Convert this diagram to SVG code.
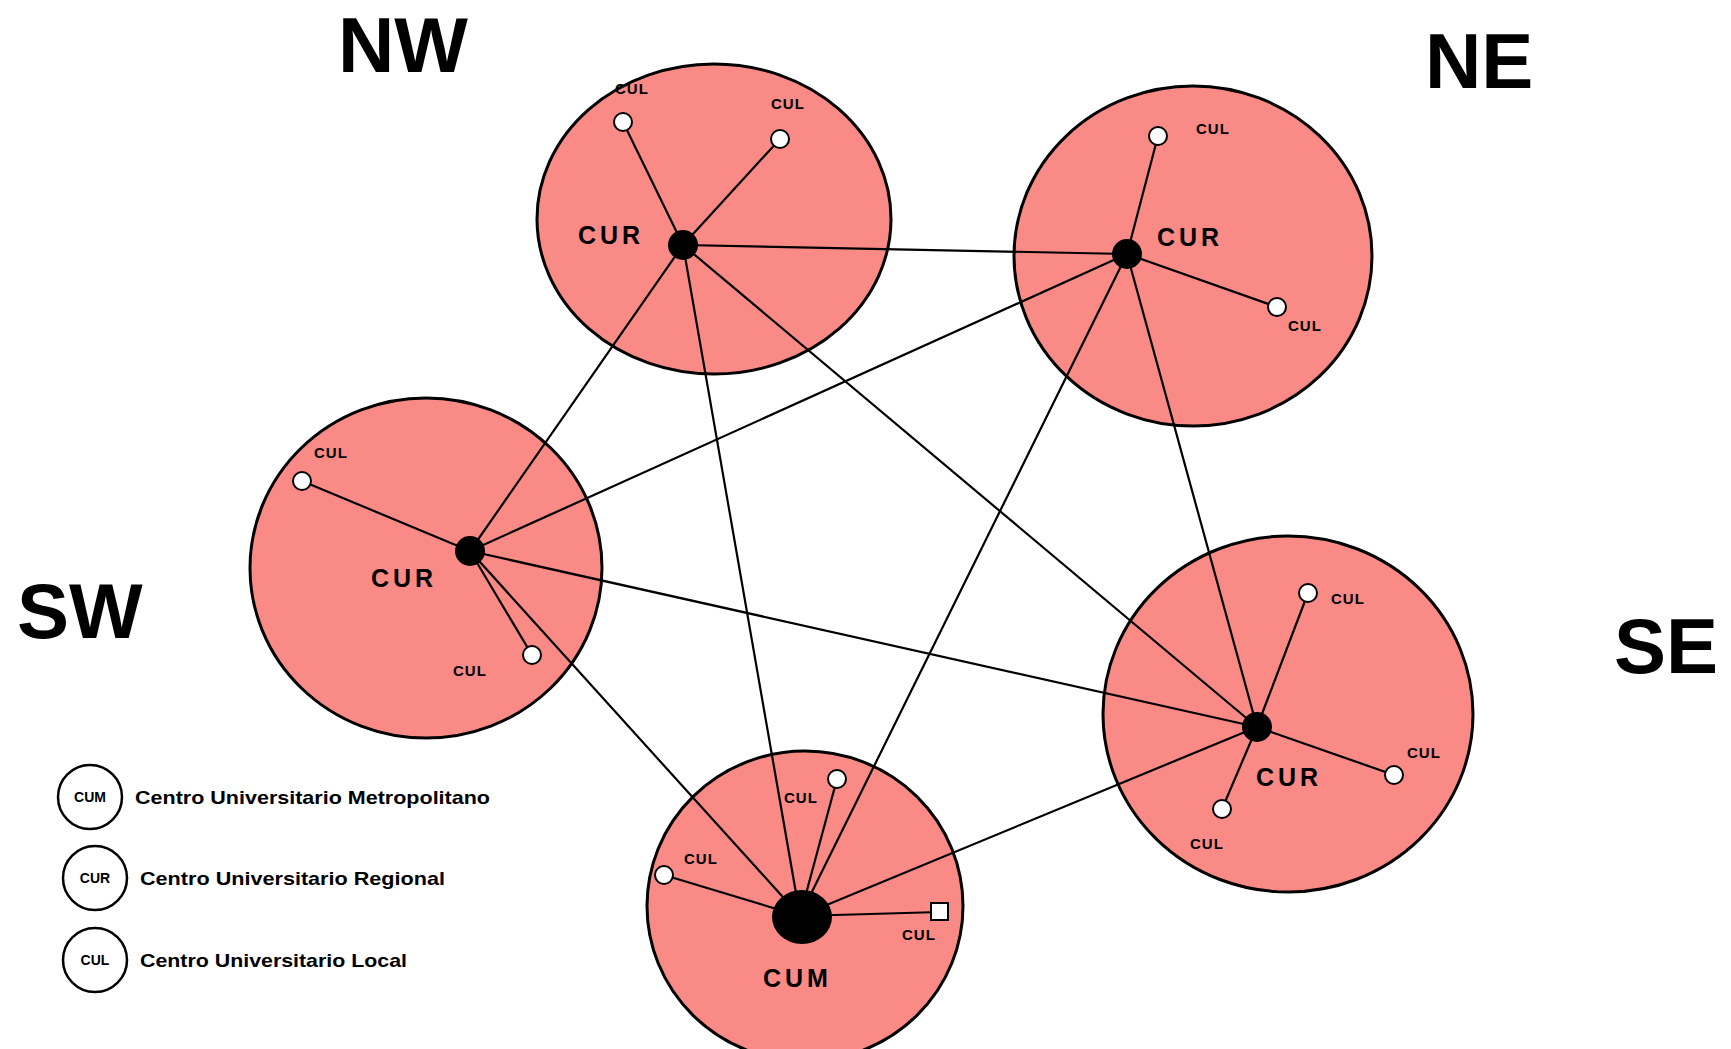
<svg xmlns="http://www.w3.org/2000/svg" width="1731" height="1049" viewBox="0 0 1731 1049">
<style>
.region{fill:#F98A86;stroke:#000;stroke-width:3}
.conn line{stroke:#000;stroke-width:2.2;stroke-linecap:round}
.hub{fill:#000}
.cul{fill:#fff;stroke:#000;stroke-width:2}
.head{font-family:"Liberation Sans",Arial,sans-serif;font-weight:bold;font-size:78px;fill:#000}
.cur{font-family:"Liberation Sans",Arial,sans-serif;font-weight:bold;font-size:25px;letter-spacing:4px;fill:#000}
.sm{font-family:"Liberation Sans",Arial,sans-serif;font-weight:bold;font-size:15px;letter-spacing:1px;fill:#000}
.lsm{font-family:"Liberation Sans",Arial,sans-serif;font-weight:bold;font-size:14px;fill:#000}
.leg{font-family:"Liberation Sans",Arial,sans-serif;font-weight:bold;font-size:19px;fill:#000}
.legc{fill:#fff;stroke:#000;stroke-width:2.5}
</style>
<rect width="1731" height="1049" fill="#fff"/>

<g id="regions">
  <ellipse id="region-nw" class="region" cx="714" cy="219" rx="177" ry="155"/>
  <ellipse id="region-ne" class="region" cx="1193" cy="256" rx="179" ry="170"/>
  <ellipse id="region-sw" class="region" cx="426" cy="568" rx="176" ry="170"/>
  <ellipse id="region-se" class="region" cx="1288" cy="714" rx="185" ry="178"/>
  <ellipse id="region-cum" class="region" cx="805" cy="906" rx="158" ry="155"/>
</g>

<g id="connectors" class="conn">
  <line x1="683" y1="245" x2="1127" y2="254"/>
  <line x1="683" y1="245" x2="470" y2="551"/>
  <line x1="683" y1="245" x2="800" y2="916"/>
  <line x1="683" y1="245" x2="1257" y2="727"/>
  <line x1="1127" y1="254" x2="470" y2="551"/>
  <line x1="1127" y1="254" x2="800" y2="916"/>
  <line x1="1127" y1="254" x2="1257" y2="727"/>
  <line x1="470" y1="551" x2="1257" y2="727"/>
  <line x1="470" y1="551" x2="800" y2="916"/>
  <line x1="1257" y1="727" x2="800" y2="916"/>
  <line x1="683" y1="245" x2="623" y2="122"/>
  <line x1="683" y1="245" x2="780" y2="139"/>
  <line x1="1127" y1="254" x2="1158" y2="136"/>
  <line x1="1127" y1="254" x2="1277" y2="307"/>
  <line x1="470" y1="551" x2="302" y2="481"/>
  <line x1="470" y1="551" x2="532" y2="655"/>
  <line x1="1257" y1="727" x2="1308" y2="593"/>
  <line x1="1257" y1="727" x2="1394" y2="775"/>
  <line x1="1257" y1="727" x2="1222" y2="809"/>
  <line x1="800" y1="916" x2="664" y2="875"/>
  <line x1="800" y1="916" x2="837" y2="779"/>
  <line x1="800" y1="916" x2="940" y2="912"/>
</g>

<g id="node-nw">
  <circle class="hub" cx="683" cy="245" r="15"/>
  <text class="cur" x="578" y="244">CUR</text>
  <g id="cul-nw-1"><circle class="cul" cx="623" cy="122" r="9"/><text class="sm" x="615" y="94">CUL</text></g>
  <g id="cul-nw-2"><circle class="cul" cx="780" cy="139" r="9"/><text class="sm" x="771" y="109">CUL</text></g>
</g>

<g id="node-ne">
  <circle class="hub" cx="1127" cy="254" r="15"/>
  <text class="cur" x="1157" y="246">CUR</text>
  <g id="cul-ne-1"><circle class="cul" cx="1158" cy="136" r="9"/><text class="sm" x="1196" y="134">CUL</text></g>
  <g id="cul-ne-2"><circle class="cul" cx="1277" cy="307" r="9"/><text class="sm" x="1288" y="331">CUL</text></g>
</g>

<g id="node-sw">
  <circle class="hub" cx="470" cy="551" r="15"/>
  <text class="cur" x="371" y="587">CUR</text>
  <g id="cul-sw-1"><circle class="cul" cx="302" cy="481" r="9"/><text class="sm" x="314" y="458">CUL</text></g>
  <g id="cul-sw-2"><circle class="cul" cx="532" cy="655" r="9"/><text class="sm" x="453" y="676">CUL</text></g>
</g>

<g id="node-se">
  <circle class="hub" cx="1257" cy="727" r="15"/>
  <text class="cur" x="1256" y="786">CUR</text>
  <g id="cul-se-1"><circle class="cul" cx="1308" cy="593" r="9"/><text class="sm" x="1331" y="604">CUL</text></g>
  <g id="cul-se-2"><circle class="cul" cx="1394" cy="775" r="9"/><text class="sm" x="1407" y="758">CUL</text></g>
  <g id="cul-se-3"><circle class="cul" cx="1222" cy="809" r="9"/><text class="sm" x="1190" y="849">CUL</text></g>
</g>

<g id="node-cum">
  <ellipse class="hub" cx="802" cy="917" rx="30" ry="27"/>
  <text class="cur" x="763" y="987">CUM</text>
  <g id="cul-cum-1"><circle class="cul" cx="837" cy="779" r="9"/><text class="sm" x="784" y="803">CUL</text></g>
  <g id="cul-cum-2"><circle class="cul" cx="664" cy="875" r="9"/><text class="sm" x="684" y="864">CUL</text></g>
  <g id="cul-cum-3"><rect class="cul" x="931" y="903" width="17" height="17"/><text class="sm" x="902" y="940">CUL</text></g>
</g>

<g id="headings">
  <text class="head" x="338" y="72">NW</text>
  <text class="head" x="1425" y="88">NE</text>
  <text class="head" x="17" y="638">SW</text>
  <text class="head" x="1614" y="673">SE</text>
</g>

<g id="legend">
  <g id="legend-cum">
    <circle class="legc" cx="90" cy="797" r="32"/>
    <text class="lsm" x="90" y="802" text-anchor="middle">CUM</text>
    <text class="leg" x="135" y="804" textLength="355" lengthAdjust="spacingAndGlyphs">Centro Universitario Metropolitano</text>
  </g>
  <g id="legend-cur">
    <circle class="legc" cx="95" cy="878" r="32"/>
    <text class="lsm" x="95" y="883" text-anchor="middle">CUR</text>
    <text class="leg" x="140" y="885" textLength="305" lengthAdjust="spacingAndGlyphs">Centro Universitario Regional</text>
  </g>
  <g id="legend-cul">
    <circle class="legc" cx="95" cy="960" r="32"/>
    <text class="lsm" x="95" y="965" text-anchor="middle">CUL</text>
    <text class="leg" x="140" y="967" textLength="267" lengthAdjust="spacingAndGlyphs">Centro Universitario Local</text>
  </g>
</g>
</svg>
